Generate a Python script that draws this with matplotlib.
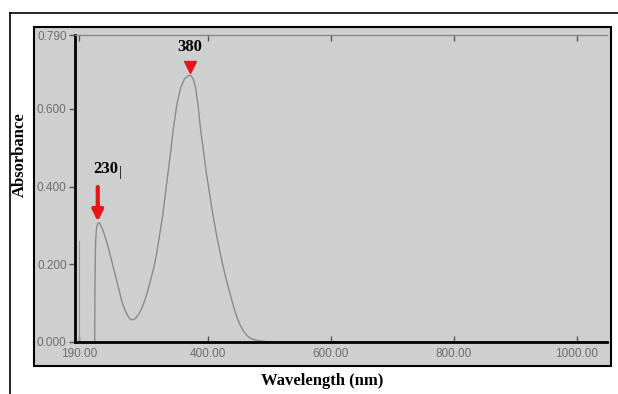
import matplotlib
matplotlib.use("Agg")
import matplotlib.pyplot as plt
from matplotlib.patches import Rectangle
from matplotlib.lines import Line2D

# UV-Vis absorption spectrum
wavelength = [216, 216.5, 217.5, 219, 221, 223, 225, 229, 233, 237, 241,
              245, 249, 253, 257, 261, 265, 269, 273, 277, 282, 287, 292,
              297, 302, 307, 312, 317, 322, 327, 332, 338, 344, 350, 356,
              362, 368, 372, 376, 380, 384, 388, 393, 398, 403, 408, 413,
              418, 424, 430, 436, 442, 447, 452, 458, 464, 470, 480, 495,
              510, 1049]
absorbance = [0.0, 0.16, 0.26, 0.293, 0.304, 0.307, 0.303, 0.29, 0.27, 0.25,
              0.225, 0.20, 0.175, 0.15, 0.125, 0.10, 0.083, 0.07, 0.06,
              0.057, 0.06, 0.07, 0.085, 0.105, 0.13, 0.16, 0.19, 0.23, 0.28,
              0.33, 0.395, 0.47, 0.55, 0.615, 0.655, 0.677, 0.685, 0.686,
              0.678, 0.655, 0.61, 0.55, 0.49, 0.43, 0.38, 0.33, 0.285,
              0.245, 0.20, 0.16, 0.125, 0.09, 0.065, 0.045, 0.028, 0.016,
              0.009, 0.004, 0.001, 0.0, 0.0]

# start-of-scan spike near 190 nm
noise_wl = [190, 190]
noise_abs = [0.0, 0.26]

peak_wl = [223, 371]
peak_abs = [0.307, 0.686]
peak_labels = ["230", "380"]

xticks = [190, 400, 600, 800, 1000]
xticklabels = ["190.00", "400.00", "600.00", "800.00", "1000.00"]
yticks = [0.0, 0.2, 0.4, 0.6, 0.79]
yticklabels = ["0.000", "0.200", "0.400", "0.600", "0.790"]

W, H = 618, 394
screen = "#cfcfcf"
tick_grey = "#6e6e6e"
red = "#e8141b"

fig = plt.figure(figsize=(W / 100, H / 100), dpi=100)

# outer frame lines (top and left only)
fig.add_artist(Line2D([10 / W, 1], [1 - 13 / H, 1 - 13 / H], color="black",
                      lw=1.2, transform=fig.transFigure))
fig.add_artist(Line2D([10 / W, 10 / W], [0, 1 - 13 / H], color="black",
                      lw=1.2, transform=fig.transFigure))

# grey instrument screen box
fig.add_artist(Rectangle((34 / W, 1 - 366 / H), 577 / W, 339 / H,
                         facecolor=screen, edgecolor="black", lw=1.5,
                         transform=fig.transFigure, zorder=-1))

ax = fig.add_axes([75 / W, 1 - 342 / H, 532 / W, 307 / H])
ax.set_facecolor(screen)

ax.plot(wavelength, absorbance, color="#8a8a8a", lw=1.0)
ax.plot(noise_wl, noise_abs, color="#9a9a9a", lw=0.8)

ax.set_xlim(184, 1049)
ax.set_ylim(0, 0.79)

ax.set_xticks(xticks)
ax.set_xticklabels(xticklabels)
ax.set_yticks(yticks)
ax.set_yticklabels(yticklabels)
ax.tick_params(axis="x", direction="in", length=4, width=1, color="#555555",
               top=True, labelsize=8.5, labelcolor=tick_grey, pad=4)
ax.tick_params(axis="y", direction="out", length=4, width=1, color="#555555",
               labelsize=8.5, labelcolor=tick_grey, pad=2)
for lab in ax.get_xticklabels() + ax.get_yticklabels():
    lab.set_family("Liberation Sans")

for side in ["left", "bottom"]:
    ax.spines[side].set_linewidth(2)
    ax.spines[side].set_color("black")
ax.spines["top"].set_color("#8a8a8a")
ax.spines["top"].set_linewidth(1)
ax.spines["right"].set_visible(False)

# peak markers
ax.plot(peak_wl[1], peak_abs[1] + 0.022, marker="v", color=red, ms=9,
        mec=red)
ax.text(peak_wl[1], peak_abs[1] + 0.052, peak_labels[1], ha="center",
        va="bottom", fontsize=12, weight="bold", family="Liberation Serif")

ax.annotate("", xy=(peak_wl[0] - 2, peak_abs[0] + 0.003),
            xytext=(peak_wl[0] - 2, peak_abs[0] + 0.092),
            arrowprops=dict(arrowstyle="-|>", color=red, lw=3,
                            mutation_scale=16, shrinkA=0, shrinkB=0))
ax.text(peak_wl[0] - 9, peak_abs[0] + 0.118, peak_labels[0], ha="left",
        va="bottom", fontsize=12, weight="bold", family="Liberation Serif")
ax.text(peak_wl[0] + 33, peak_abs[0] + 0.113, "|", ha="left",
        va="bottom", fontsize=11, family="Liberation Serif")

fig.text(20 / W, 1 - 155 / H, "Absorbance", rotation=90, ha="center",
         va="center", fontsize=12, weight="bold", family="Liberation Serif")
fig.text(322 / W, 1 - 381 / H, "Wavelength (nm)", ha="center", va="center",
         fontsize=12, weight="bold", family="Liberation Serif")

fig.savefig("out.png", dpi=100)
